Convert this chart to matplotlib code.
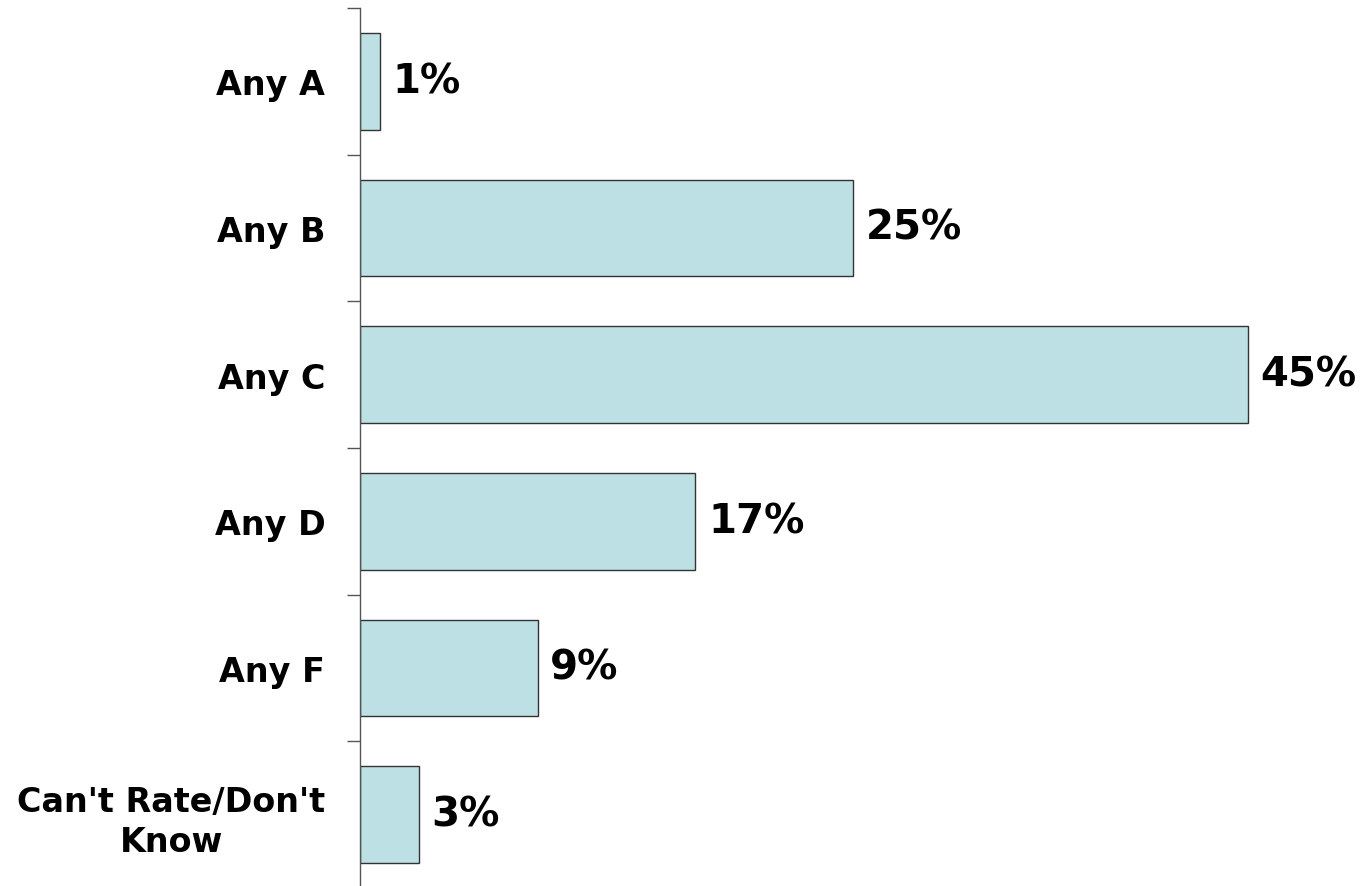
import matplotlib.pyplot as plt
import numpy as np

# chart data
categories = ["Any A", "Any B", "Any C", "Any D", "Any F", "Can't Rate/Don't\nKnow"]
values = [1, 25, 45, 17, 9, 3]

bar_color = "#BCE0E3"
edge_color = "#333333"

fig = plt.figure(figsize=(13.61, 8.87), dpi=100)
ax = fig.add_axes([360 / 1361, -2 / 887, 986.7 / 1361, 880 / 887])

y = np.arange(len(categories))
bars = ax.barh(y, values, height=0.66, color=bar_color, edgecolor=edge_color, linewidth=1.0)

ax.set_xlim(0, 50)
ax.set_ylim(len(categories) - 0.5, -0.5)

# value labels at bar ends
for yi, v in zip(y, values):
    ax.annotate("{}%".format(v), xy=(v, yi), xytext=(9, 0), textcoords="offset points",
                ha="left", va="center", fontsize=29, fontweight="bold", color="black")

# category labels at centers, tick marks at boundaries
ax.set_yticks(y)
ax.set_yticklabels(categories, fontsize=24, fontweight="bold", linespacing=1.25,
                   multialignment="center")
ax.tick_params(axis="y", which="major", length=0, pad=25)
ax.set_yticks(np.arange(-0.5, len(categories), 1.0), minor=True)
ax.tick_params(axis="y", which="minor", length=9.4, width=1.0, color="#555555", direction="out")
ax.set_xticks([])

for side in ["top", "right", "bottom"]:
    ax.spines[side].set_visible(False)
ax.spines["left"].set_color("#555555")
ax.spines["left"].set_linewidth(1.0)

fig.savefig("out.png", dpi=100, facecolor="white")
